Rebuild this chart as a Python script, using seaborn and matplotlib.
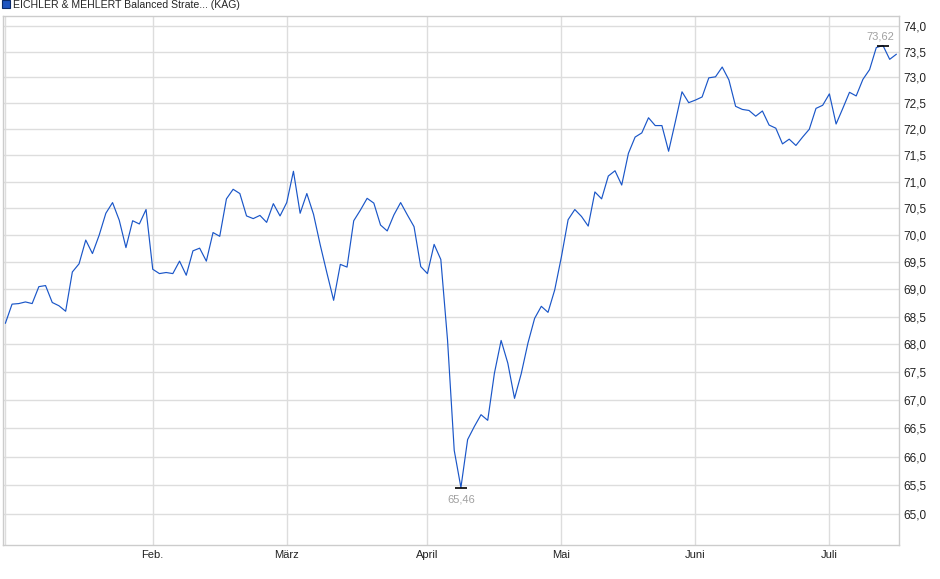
import numpy as np
import pandas as pd
import seaborn as sns
import matplotlib.pyplot as plt
from matplotlib.patches import Patch
from matplotlib.ticker import FixedLocator, NullLocator

# fund price, one value per trading day (Jan .. mid July)
prices = [
    68.38, 68.73, 68.74, 68.77, 68.74, 69.05, 69.07, 68.76, 68.70, 68.60,
    69.32, 69.47, 69.91, 69.66, 70.00, 70.41, 70.61, 70.28, 69.77, 70.27,
    70.21, 70.48, 69.37, 69.29, 69.31, 69.29, 69.52, 69.26, 69.71, 69.76,
    69.52, 70.05, 69.98, 70.68, 70.86, 70.78, 70.36, 70.31, 70.37, 70.24,
    70.59, 70.36, 70.61, 71.20, 70.41, 70.78, 70.39, 69.82, 69.30, 68.80,
    69.46, 69.41, 70.27, 70.47, 70.69, 70.60, 70.19, 70.08, 70.38, 70.61,
    70.38, 70.16, 69.42, 69.29, 69.83, 69.55, 68.08, 66.11, 65.46, 66.30,
    66.53, 66.74, 66.64, 67.48, 68.07, 67.66, 67.03, 67.47, 68.02, 68.47,
    68.69, 68.58, 68.99, 69.60, 70.29, 70.48, 70.35, 70.17, 70.81, 70.68,
    71.11, 71.21, 70.94, 71.54, 71.85, 71.93, 72.22, 72.07, 72.07, 71.58,
    72.14, 72.72, 72.51, 72.56, 72.62, 72.99, 73.01, 73.20, 72.95, 72.44,
    72.38, 72.36, 72.25, 72.35, 72.08, 72.02, 71.72, 71.81, 71.69, 71.85,
    72.00, 72.40, 72.46, 72.68, 72.10, 72.40, 72.71, 72.64, 72.96, 73.15,
    73.58, 73.62, 73.35, 73.45,
]

# trading-day index where each month starts
month_pos = [0, 22, 42, 63, 83, 103, 123]
month_labels = ["", "Feb.", "März", "April", "Mai", "Juni", "Juli"]

y_ticks = [65.0, 65.5, 66.0, 66.5, 67.0, 67.5, 68.0, 68.5, 69.0, 69.5,
           70.0, 70.5, 71.0, 71.5, 72.0, 72.5, 73.0, 73.5, 74.0]
y_labels = ["65,0", "65,5", "66,0", "66,5", "67,0", "67,5", "68,0", "68,5",
            "69,0", "69,5", "70,0", "70,5", "71,0", "71,5", "72,0", "72,5",
            "73,0", "73,5", "74,0"]

series_name = "EICHLER & MEHLERT Balanced Strate... (KAG)"

df = pd.DataFrame({"day": np.arange(len(prices)), "price": prices})

sns.set_style("white")
plt.rcParams["font.family"] = ["Liberation Sans", "DejaVu Sans"]

line_color = "#1a56c8"
grid_color = "#dddddd"

fig = plt.figure(figsize=(9.4, 5.79), dpi=100)
ax = fig.add_axes([0.0032, 0.0579, 0.9529, 0.9145])

sns.lineplot(data=df, x="day", y="price", color=line_color, linewidth=0.85, ax=ax)

ax.set_yscale("log")
ax.set_ylim(64.46, 74.20)
ax.set_xlim(-0.35, 133.35)

ax.yaxis.set_major_locator(FixedLocator(y_ticks))
ax.yaxis.set_minor_locator(NullLocator())
ax.set_yticklabels(y_labels)
ax.yaxis.tick_right()
ax.set_xticks(month_pos)
ax.set_xticklabels(month_labels)
ax.set_xlabel("")
ax.set_ylabel("")

ax.grid(True, color=grid_color, linewidth=1.0)
ax.set_axisbelow(True)
ax.tick_params(axis="y", length=0, pad=3, labelsize=8.5, labelcolor="#222222")
ax.tick_params(axis="x", length=0, pad=3, labelsize=8, labelcolor="#222222")
for sp in ax.spines.values():
    sp.set_color("#cccccc")
    sp.set_linewidth(1.0)

# min / max markers
i_min = int(np.argmin(prices))
i_max = int(np.argmax(prices))
ax.plot([i_min], [prices[i_min]], marker="_", markersize=9, color="black", mew=1.2)
ax.plot([i_max], [prices[i_max]], marker="_", markersize=9, color="black", mew=1.2)
ax.annotate(f"{prices[i_min]:.2f}".replace(".", ","), (i_min, prices[i_min]),
            xytext=(0, -5), textcoords="offset points", ha="center", va="top",
            fontsize=8, color="#a0a0a0")
ax.annotate(f"{prices[i_max]:.2f}".replace(".", ","), (i_max, prices[i_max]),
            xytext=(-2, 3), textcoords="offset points", ha="center", va="bottom",
            fontsize=8, color="#a0a0a0")

# legend in the top strip
handle = Patch(facecolor="#1f55c0", edgecolor="#0a2a6a", linewidth=0.8)
fig.legend([handle], [series_name], loc="upper left", bbox_to_anchor=(-0.001, 1.006),
           frameon=False, fontsize=7.6, handlelength=0.75, handleheight=0.65,
           handletextpad=0.3, borderaxespad=0.1, borderpad=0.2)

fig.savefig("out.png", dpi=100)
